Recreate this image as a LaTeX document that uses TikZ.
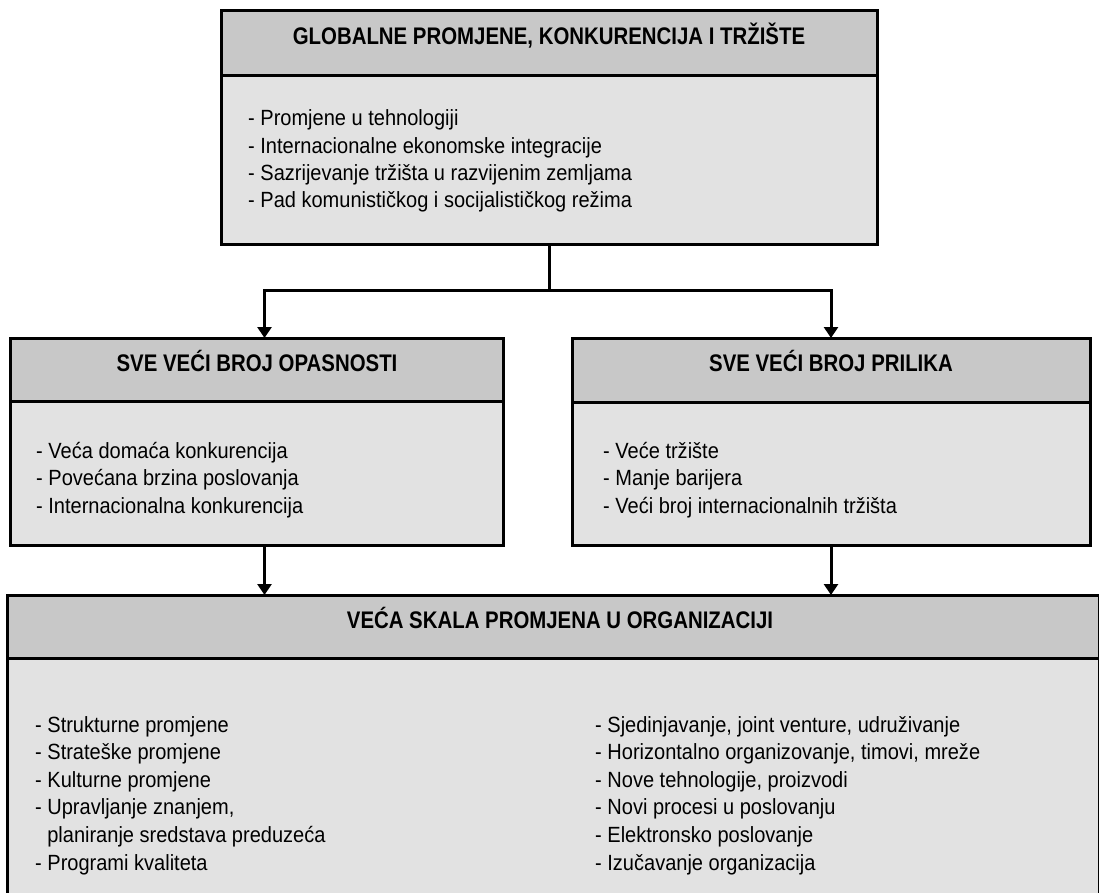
\documentclass[tikz,border=0pt]{standalone}
\usepackage{fontspec}
\setmainfont{Liberation Sans}[FakeStretch=0.91]
\newfontfamily\hdfont{Liberation Sans}[FakeStretch=0.85]
\usetikzlibrary{arrows.meta}
\definecolor{hdgray}{RGB}{200,200,200}
\definecolor{bdgray}{RGB}{226,226,226}
\tikzset{
  hbox/.style={draw=black, line width=3pt, fill=hdgray, rectangle, anchor=north west, inner sep=0pt, outer sep=0pt},
  bbox/.style={draw=black, line width=3pt, fill=bdgray, rectangle, anchor=north west, inner sep=0pt, outer sep=0pt},
  htext/.style={anchor=base, inner sep=0pt, font=\hdfont\bfseries\fontsize{24}{28}\selectfont},
  item/.style={anchor=base west, inner sep=0pt, font=\fontsize{22}{27}\selectfont},
  conn/.style={line width=3pt, draw=black},
  arr/.style={line width=3pt, draw=black, -{Triangle[width=14pt,length=11pt]}}
}
\begin{document}
\begin{tikzpicture}[x=1pt,y=-1pt]
\useasboundingbox (0,0) rectangle (1099,893);
% top box
\node[bbox, minimum width=656pt, minimum height=168pt] (topB) at (221,76) {};
\node[hbox, minimum width=656pt, minimum height=65pt] (topH) at (221,11) {};
\node[htext] (topT) at (549,45) {GLOBALNE PROMJENE, KONKURENCIJA I TRŽIŠTE};
\foreach \t [count=\i] in {{- Promjene u tehnologiji},{- Internacionalne ekonomske integracije},{- Sazrijevanje tržišta u razvijenim zemljama},{- Pad komunističkog i socijalističkog režima}}
  \node[item] (top-\i) at (248,{126+27.2*(\i-1)}) {\t};
% left box
\node[bbox, minimum width=493pt, minimum height=144pt] (leftB) at (10,401) {};
\node[hbox, minimum width=493pt, minimum height=63pt] (leftH) at (10,338) {};
\node[htext] (leftT) at (257,371) {SVE VEĆI BROJ OPASNOSTI};
\foreach \t [count=\i] in {{- Veća domaća konkurencija},{- Povećana brzina poslovanja},{- Internacionalna konkurencija}}
  \node[item] (left-\i) at (36,{458+27.5*(\i-1)}) {\t};
% right box
\node[bbox, minimum width=518pt, minimum height=143pt] (rightB) at (572,402) {};
\node[hbox, minimum width=518pt, minimum height=64pt] (rightH) at (572,338) {};
\node[htext] (rightT) at (831,371) {SVE VEĆI BROJ PRILIKA};
\foreach \t [count=\i] in {{- Veće tržište},{- Manje barijera},{- Veći broj internacionalnih tržišta}}
  \node[item] (right-\i) at (603,{458+27.5*(\i-1)}) {\t};
% bottom box
\node[bbox, minimum width=1092pt, minimum height=260pt] (botB) at (7,658) {};
\node[hbox, minimum width=1092pt, minimum height=63pt] (botH) at (7,595) {};
\node[htext] (botT) at (560,628) {VEĆA SKALA PROMJENA U ORGANIZACIJI};
\foreach \t [count=\i] in {{- Strukturne promjene},{- Strateške promjene},{- Kulturne promjene},{- Upravljanje znanjem,},{\hspace*{0.55em}planiranje sredstava preduzeća},{- Programi kvaliteta}}
  \node[item] (bl-\i) at (35,{732+27.6*(\i-1)}) {\t};
\foreach \t [count=\i] in {{- Sjedinjavanje, joint venture, udruživanje},{- Horizontalno organizovanje, timovi, mreže},{- Nove tehnologije, proizvodi},{- Novi procesi u poslovanju},{- Elektronsko poslovanje},{- Izučavanje organizacija}}
  \node[item] (br-\i) at (595,{732+27.6*(\i-1)}) {\t};
% connectors
\coordinate (split) at (549,290);
\draw[conn] (topB.south) -- (split);
\draw[arr] (split) -| ([xshift=8pt]leftH.north);
\draw[arr] (split) -| (rightH.north);
\draw[arr] ([xshift=8pt]leftB.south) -- ([xshift=8pt]leftB.south |- botH.north);
\draw[arr] (rightB.south) -- (rightB.south |- botH.north);
\end{tikzpicture}
\end{document}
